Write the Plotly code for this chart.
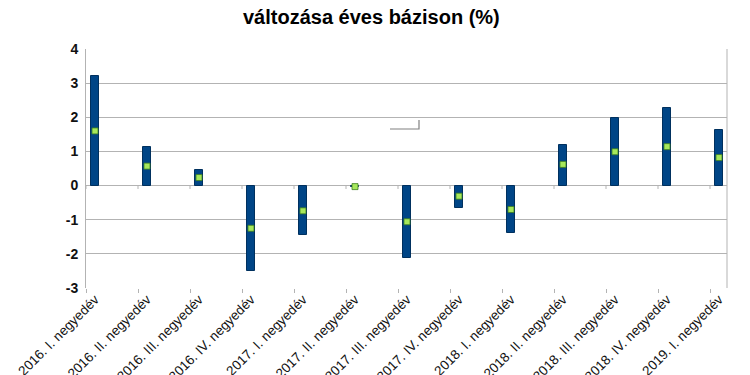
import plotly.graph_objects as go

categories = ["2016. I. negyedév", "2016. II. negyedév", "2016. III. negyedév", "2016. IV. negyedév",
              "2017. I. negyedév", "2017. II. negyedév", "2017. III. negyedév", "2017. IV. negyedév",
              "2018. I. negyedév", "2018. II. negyedév", "2018. III. negyedév", "2018. IV. negyedév",
              "2019. I. negyedév"]
change_values = [3.2, 1.12, 0.45, -2.51, -1.46, -0.05, -2.12, -0.65, -1.4, 1.2, 1.99, 2.28, 1.62]
mid_values = [1.6, 0.57, 0.235, -1.25, -0.74, -0.03, -1.06, -0.31, -0.7, 0.62, 0.99, 1.14, 0.82]
y_ticks = [-3, -2, -1, 0, 1, 2, 3, 4]
y_tick_labels = ["-3", "-2", "-1", "0", "1", "2", "3", "4"]

xpos = list(range(len(categories)))
offset = 0.173  # tick marks sit at the category boundaries, bars toward the left
boundaries = [i - offset for i in range(len(categories))]

GRID = "#b3b3b3"

fig = go.Figure()
fig.add_trace(go.Bar(
    x=xpos, y=change_values, base=0, width=0.165,
    marker=dict(color="#004586", line=dict(color="#00305e", width=1)),
    showlegend=False, hoverinfo="skip"))
fig.add_trace(go.Scatter(
    x=xpos, y=mid_values, mode="markers",
    marker=dict(symbol="square", size=6, color="#a6e85c", line=dict(color="#3d7d1e", width=0.8)),
    showlegend=False, hoverinfo="skip"))

shapes = []
for b in boundaries:
    shapes.append(dict(type="line", xref="x", yref="y", x0=b, x1=b, y0=0, y1=-0.1,
                       line=dict(color=GRID, width=1)))
shapes.append(dict(type="line", xref="paper", yref="paper", x0=1, x1=1, y0=0, y1=1,
                   line=dict(color=GRID, width=1)))
shapes.append(dict(type="path", xref="paper", yref="paper",
                   path="M %f %f L %f %f L %f %f" % ((390-86)/641, (288-129)/239,
                                                      (419-86)/641, (288-129)/239,
                                                      (419-86)/641, (288-120)/239),
                   line=dict(color="#808080", width=1.2)))

fig.update_layout(
    width=750, height=375,
    margin=dict(l=78, r=31, t=41, b=95, autoexpand=False),
    paper_bgcolor="white", plot_bgcolor="white",
    bargap=0,
    shapes=shapes,
    font=dict(family="Liberation Sans, Arial, sans-serif", color="#000000"),
    annotations=[dict(text="<b>változása éves bázison (%)</b>", xref="paper", yref="paper",
                      x=(371-86)/641, y=1 + (49-17)/239, xanchor="center", yanchor="middle",
                      showarrow=False,
                      font=dict(family="Liberation Sans Narrow, Arial Narrow, sans-serif", size=20,
                                color="#000000"))],
    xaxis=dict(
        automargin=False,
        range=[-offset, len(categories) - 1 + 0.154],
        tickmode="array", tickvals=xpos, ticktext=categories,
        tickangle=-45, ticks="", showgrid=False, zeroline=False,
        tickfont=dict(size=13.5, color="#111111"),
        showline=False,
        minor=dict(tickmode="array", tickvals=boundaries, ticks="outside", ticklen=4,
                   tickcolor=GRID, showgrid=False),
    ),
    yaxis=dict(
        automargin=False,
        range=[-3, 4], tickmode="array", tickvals=y_ticks, ticktext=y_tick_labels,
        showgrid=True, gridcolor=GRID, gridwidth=1,
        zeroline=True, zerolinecolor=GRID, zerolinewidth=1,
        showline=True, linecolor=GRID, linewidth=1,
        ticks="", ticklabelstandoff=4,
        tickfont=dict(size=14, color="#111111", family="Liberation Sans, Arial, sans-serif", weight="bold"),
    ),
)

fig.write_html("out.html")
